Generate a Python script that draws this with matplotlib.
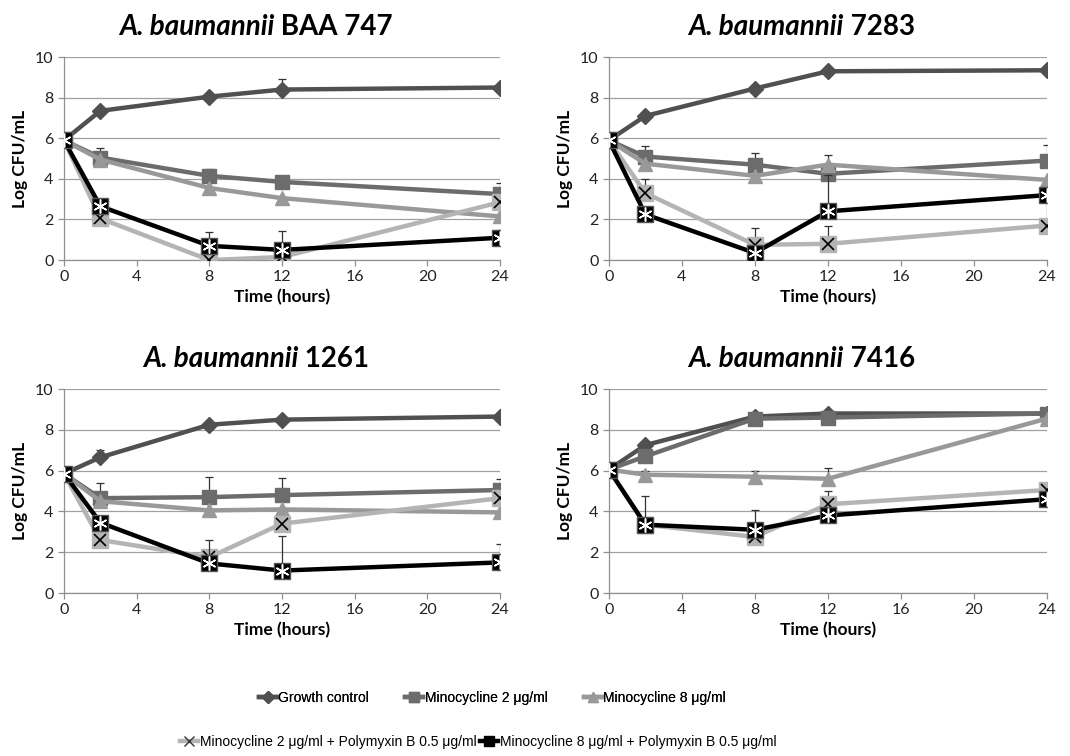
import matplotlib
matplotlib.use("Agg")
import matplotlib.pyplot as plt
from matplotlib.lines import Line2D
import numpy as np

# Time points (hours)
hours = [0, 2, 8, 12, 24]

strains = ["BAA 747", "7283", "1261", "7416"]

series_names = [
    "Growth control",
    "Minocycline 2 \u03bcg/ml",
    "Minocycline 8 \u03bcg/ml",
    "Minocycline 2 \u03bcg/ml + Polymyxin B 0.5 \u03bcg/ml",
    "Minocycline 8 \u03bcg/ml + Polymyxin B 0.5 \u03bcg/ml",
]

# Log CFU/mL, per strain, per series
growth = {
    "BAA 747": [5.9, 7.35, 8.05, 8.4, 8.5],
    "7283": [5.9, 7.1, 8.45, 9.3, 9.35],
    "1261": [5.85, 6.65, 8.25, 8.5, 8.65],
    "7416": [6.05, 7.25, 8.65, 8.8, 8.8],
}
mino2 = {
    "BAA 747": [5.9, 5.05, 4.15, 3.85, 3.25],
    "7283": [5.9, 5.1, 4.7, 4.25, 4.9],
    "1261": [5.85, 4.65, 4.7, 4.8, 5.05],
    "7416": [6.05, 6.7, 8.55, 8.6, 8.8],
}
mino8 = {
    "BAA 747": [5.9, 4.95, 3.55, 3.05, 2.15],
    "7283": [5.9, 4.75, 4.15, 4.7, 3.95],
    "1261": [5.85, 4.5, 4.05, 4.1, 3.95],
    "7416": [6.05, 5.8, 5.7, 5.6, 8.55],
}
mino2_pb = {
    "BAA 747": [5.9, 2.05, 0.0, 0.15, 2.85],
    "7283": [5.9, 3.3, 0.75, 0.8, 1.7],
    "1261": [5.85, 2.6, 1.75, 3.4, 4.65],
    "7416": [6.05, 3.35, 2.75, 4.35, 5.05],
}
mino8_pb = {
    "BAA 747": [5.9, 2.65, 0.7, 0.5, 1.1],
    "7283": [5.9, 2.25, 0.35, 2.4, 3.2],
    "1261": [5.85, 3.45, 1.45, 1.1, 1.5],
    "7416": [6.05, 3.35, 3.1, 3.8, 4.6],
}

# Upper error bars (only the visible ones)
err_growth = {
    "BAA 747": [0, 0, 0, 0.5, 0],
    "7283": [0, 0, 0, 0, 0],
    "1261": [0, 0.35, 0, 0, 0],
    "7416": [0, 0, 0, 0, 0],
}
err_mino2 = {
    "BAA 747": [0, 0.45, 0.35, 0.25, 0.55],
    "7283": [0, 0.5, 0.55, 0, 0.75],
    "1261": [0, 0.75, 1.0, 0.85, 0.55],
    "7416": [0, 0, 0, 0, 0],
}
err_mino8 = {
    "BAA 747": [0, 0, 0, 0, 0],
    "7283": [0, 0, 0, 0.5, 0],
    "1261": [0, 0, 0, 0, 0],
    "7416": [0, 0.2, 0.3, 0.55, 0],
}
err_mino2_pb = {
    "BAA 747": [0, 0, 0, 0, 0],
    "7283": [0, 0.7, 0.85, 0.9, 1.4],
    "1261": [0, 0, 0, 0, 0],
    "7416": [0, 0, 0.4, 0.65, 0],
}
err_mino8_pb = {
    "BAA 747": [0, 0, 0.7, 0.95, 0.4],
    "7283": [0, 0, 0, 1.8, 0],
    "1261": [0, 0, 1.15, 1.7, 0.9],
    "7416": [0, 1.4, 0.95, 0, 0],
}

plt.rcParams["font.family"] = ["Lato", "DejaVu Sans"]

fig = plt.figure(figsize=(10.7, 7.56), dpi=100)

positions = [
    [0.0598, 0.656, 0.4075, 0.2685],
    [0.569, 0.656, 0.4093, 0.2685],
    [0.0598, 0.2156, 0.4075, 0.2698],
    [0.569, 0.2156, 0.4093, 0.2698],
]

c_growth = "#505050"
c_m2 = "#6c6c6c"
c_m8 = "#999999"
c_m2pb = "#b4b4b4"
c_m8pb = "#000000"


def draw_series(ax, y, err, color, marker, ms, mfc, mec, z):
    lower = np.zeros(len(y))
    ax.errorbar(hours, y, yerr=[lower, err], fmt="none", ecolor="#333333",
                elinewidth=0.9, capsize=3, capthick=0.9, zorder=z - 0.5)
    ax.plot(hours, y, color=color, lw=3.2, marker=marker, ms=ms,
            mfc=mfc, mec=mec, mew=1.0, zorder=z)


axes = []
for i, s in enumerate(strains):
    ax = fig.add_axes(positions[i])
    axes.append(ax)
    ax.set_xlim(0, 24)
    ax.set_ylim(0, 10)
    ax.set_xticks([0, 4, 8, 12, 16, 20, 24])
    ax.set_yticks([0, 2, 4, 6, 8, 10])
    ax.grid(axis="y", color="#a0a0a0", lw=0.9)
    ax.set_axisbelow(True)
    for sp in ["top", "right"]:
        ax.spines[sp].set_visible(False)
    for sp in ["left", "bottom"]:
        ax.spines[sp].set_color("#909090")
        ax.spines[sp].set_linewidth(0.9)
    ax.tick_params(axis="both", colors="#909090", labelcolor="#222222",
                   labelsize=11.5, length=4, width=0.9)
    ax.set_xlabel("Time (hours)", fontsize=12.5, fontweight="bold", labelpad=3)
    ax.set_ylabel("Log CFU/mL", fontsize=12.5, fontweight="bold", labelpad=5)

    draw_series(ax, growth[s], err_growth[s], c_growth, "D", 8, c_growth, c_growth, 3)
    draw_series(ax, mino2[s], err_mino2[s], c_m2, "s", 10, c_m2, c_m2, 4)
    draw_series(ax, mino8[s], err_mino8[s], c_m8, "^", 10, c_m8, c_m8, 5)
    # Minocycline 2 + PB: grey square behind a black X
    draw_series(ax, mino2_pb[s], err_mino2_pb[s], c_m2pb, "s", 11, c_m2pb, c_m2pb, 6)
    ax.plot(hours, mino2_pb[s], ls="none", marker="x", ms=9, mec="black",
            mew=1.2, zorder=6.2)
    # Minocycline 8 + PB: black square with white asterisk
    draw_series(ax, mino8_pb[s], err_mino8_pb[s], c_m8pb, "s", 11, "black", "#555555", 7)
    ax.plot(hours, mino8_pb[s], ls="none", marker=(6, 2, 0), ms=10, mec="white",
            mew=1.1, zorder=7.2)

# Titles: italic species + bold strain, centred together
fig.canvas.draw()
renderer = fig.canvas.get_renderer()
for ax, s in zip(axes, strains):
    t1 = ax.text(0, 1.085, "A. baumannii", transform=ax.transAxes,
                 fontsize=20, fontweight="bold", fontstyle="italic",
                 ha="left", va="bottom")
    t2 = ax.annotate(" " + s, xy=(1, 0), xycoords=t1, fontsize=20,
                     fontweight="bold", ha="left", va="bottom")
    fig.canvas.draw()
    bb1 = t1.get_window_extent(renderer)
    bb2 = t2.get_window_extent(renderer)
    axbb = ax.get_window_extent(renderer)
    total = bb2.x1 - bb1.x0
    centre = axbb.x0 + 0.44 * axbb.width
    t1.set_x((centre - total / 2 - axbb.x0) / axbb.width)

# Legend
h_growth = Line2D([], [], color=c_growth, lw=3.2, marker="D", ms=6, mfc=c_growth, mec=c_growth)
h_m2 = Line2D([], [], color=c_m2, lw=3.2, marker="s", ms=7, mfc=c_m2, mec=c_m2)
h_m8 = Line2D([], [], color=c_m8, lw=3.2, marker="^", ms=7, mfc=c_m8, mec=c_m8)
h_m2pb = Line2D([], [], color=c_m2pb, lw=3.2, marker="x", ms=7, mec="#333333", mew=1.0)
h_m8pb = Line2D([], [], color="black", lw=3.2, marker="s", ms=7, mfc="black", mec="black")

leg_font = {"family": ["Liberation Sans", "DejaVu Sans"], "size": 10}
leg1 = fig.legend([h_growth, h_m2, h_m8], series_names[:3], loc="center",
                  bbox_to_anchor=(0.46, 0.077), ncol=3, frameon=False, prop=leg_font,
                  handlelength=1.3, handletextpad=0.1, columnspacing=2.6)
leg2 = fig.legend([h_m2pb, h_m8pb], series_names[3:], loc="center",
                  bbox_to_anchor=(0.447, 0.019), ncol=2, frameon=False, prop=leg_font,
                  handlelength=1.3, handletextpad=0.1, columnspacing=0.3)
fig.add_artist(leg1)

fig.savefig("out.png", dpi=100)
